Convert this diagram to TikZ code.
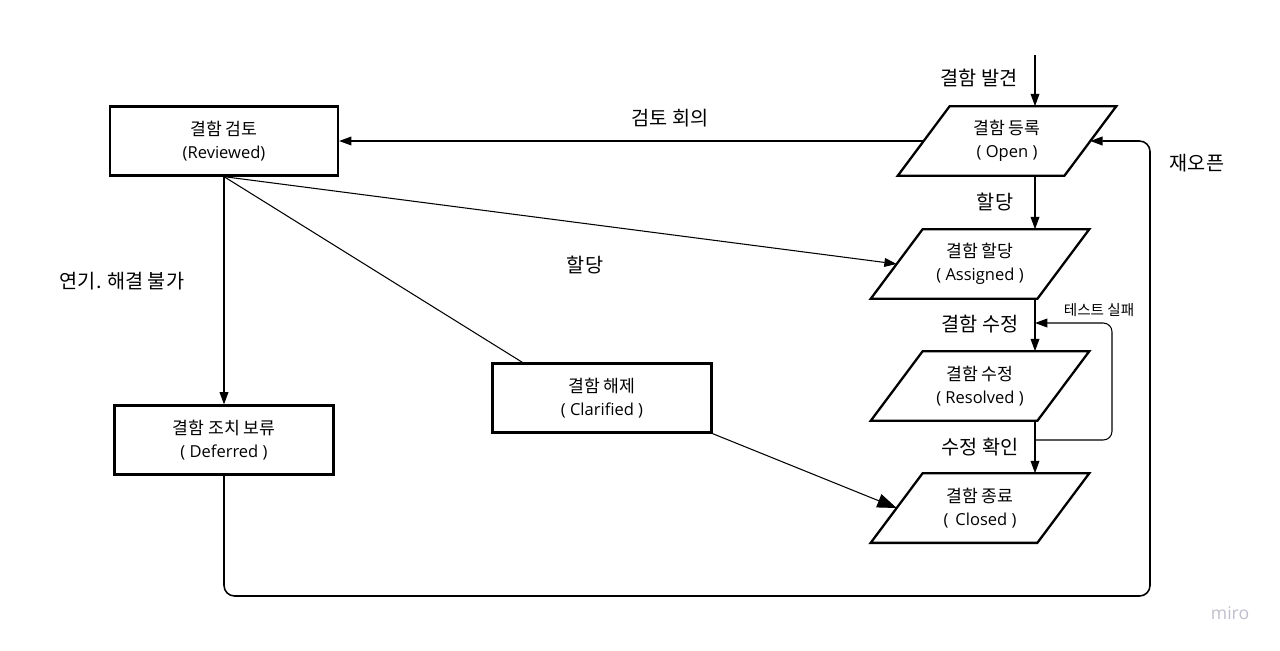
\documentclass[tikz,border=0pt]{standalone}
\usepackage{fontspec}
\setmainfont{Open Sans}
\newfontfamily\kr{Noto Sans CJK KR}
\usetikzlibrary{calc,arrows.meta}

\definecolor{mirogray}{RGB}{190,190,205}
\tikzset{
  statebox/.style={draw,line width=1.3pt,minimum width=4.56cm,minimum height=1.38cm,
    align=center,font=\fontsize{9.4}{13}\selectfont,inner sep=0pt},
  % parallelogram body: the outline is drawn from the node corners afterwards
  statepara/.style={minimum width=3.32cm,minimum height=1.38cm,
    align=center,font=\fontsize{9.4}{13}\selectfont,inner sep=0pt},
  paraline/.style={line width=1.3pt,line join=miter},
  flow/.style={line width=0.6pt,-{Triangle[length=7pt,width=5pt]}},
  lbl/.style={font=\kr\fontsize{11.2}{13}\selectfont},
}
\newcommand{\ko}[1]{{\kr\fontsize{9.8}{13}\selectfont #1}}

\begin{document}
\begin{tikzpicture}[x=0.02cm,y=-0.02cm]
    \useasboundingbox (0,0) rectangle (1280,650);
    % states
    \node [statebox] (rev) at (224,141) {\ko{결함 검토}\\(Reviewed)};
    \node [statebox,minimum width=4.38cm] (def) at (224,440) {\ko{결함 조치 보류}\\( Deferred )};
    \node [statebox,minimum width=4.38cm] (clar) at (602,398) {\ko{결함 해제}\\( Clarified )};
    \node [statepara] (open) at (1007,141) {\ko{결함 등록}\\( Open )};
    \node [statepara] (asg) at (980,264) {\ko{결함 할당}\\( Assigned )};
    \node [statepara] (res) at (980,386) {\ko{결함 수정}\\( Resolved )};
    \node [statepara] (clo) at (980,508) {\ko{결함 종료}\\(\, Closed )};
    \foreach \n in {open,asg,res,clo}
        \draw [paraline] ($(\n.north west)+(26,0)$) -- ($(\n.north east)+(26,0)$)
            -- ($(\n.south east)+(-26,0)$) -- ($(\n.south west)+(-26,0)$) -- cycle;
    % main line on the right
    \coordinate (sx) at (1035,0);
    \coordinate (top) at (1035,55);
    \draw [flow] (top) -- (open.north -| sx);
    \draw [flow] (open.south -| sx) -- (asg.north -| sx);
    \draw [flow] (asg.south -| sx) -- (res.north -| sx);
    \draw [flow] (res.south -| sx) -- (clo.north -| sx);
    % test failed loop
    \coordinate (lpa) at (1035,440);
    \coordinate (lpb) at (1035,323);
    \draw [flow,rounded corners=5pt] (lpa) -- (1112,440) -- (1112,323) -- (lpb);
    % from reviewed
    \draw [flow] (open.west) -- (rev.east);
    \draw [flow] (rev.south) -- (def.north);
    \draw [flow] (rev.south) -- (asg.west);
    \draw [line width=0.6pt] (rev.south) -- ($(clar.north west)+(31,0)$);
    \draw [line width=0.6pt,-{Triangle[length=11pt,width=8pt]}] (clar.south east) -- (clo.west);
    % reopen
    \draw [line width=0.9pt,rounded corners=6pt,-{Triangle[length=7pt,width=5pt]}]
        (def.south) -- (224,596) -- (1150,596) -- (1150,141) -- (open.east);
    % labels
    \node [lbl] (l1) at (979,78) {결함 발견};
    \node [lbl] (l2) at (670,118) {검토 회의};
    \node [lbl] (l3) at (995,202) {할당};
    \node [lbl] (l4) at (585,265) {할당};
    \node [lbl] (l5) at (980,324) {결함 수정};
    \node [lbl] (l6) at (980,447) {수정 확인};
    \node [font=\kr\fontsize{8.3}{10}\selectfont] (l7) at (1099,310) {테스트 실패};
    \node [lbl] (l8) at (122,281) {연기. 해결 불가};
    \node [lbl] (l9) at (1197,163) {재오픈};
    \node [font=\fontsize{10}{12}\selectfont,text=mirogray] (miro) at (1230,613) {miro};
\end{tikzpicture}
\end{document}
